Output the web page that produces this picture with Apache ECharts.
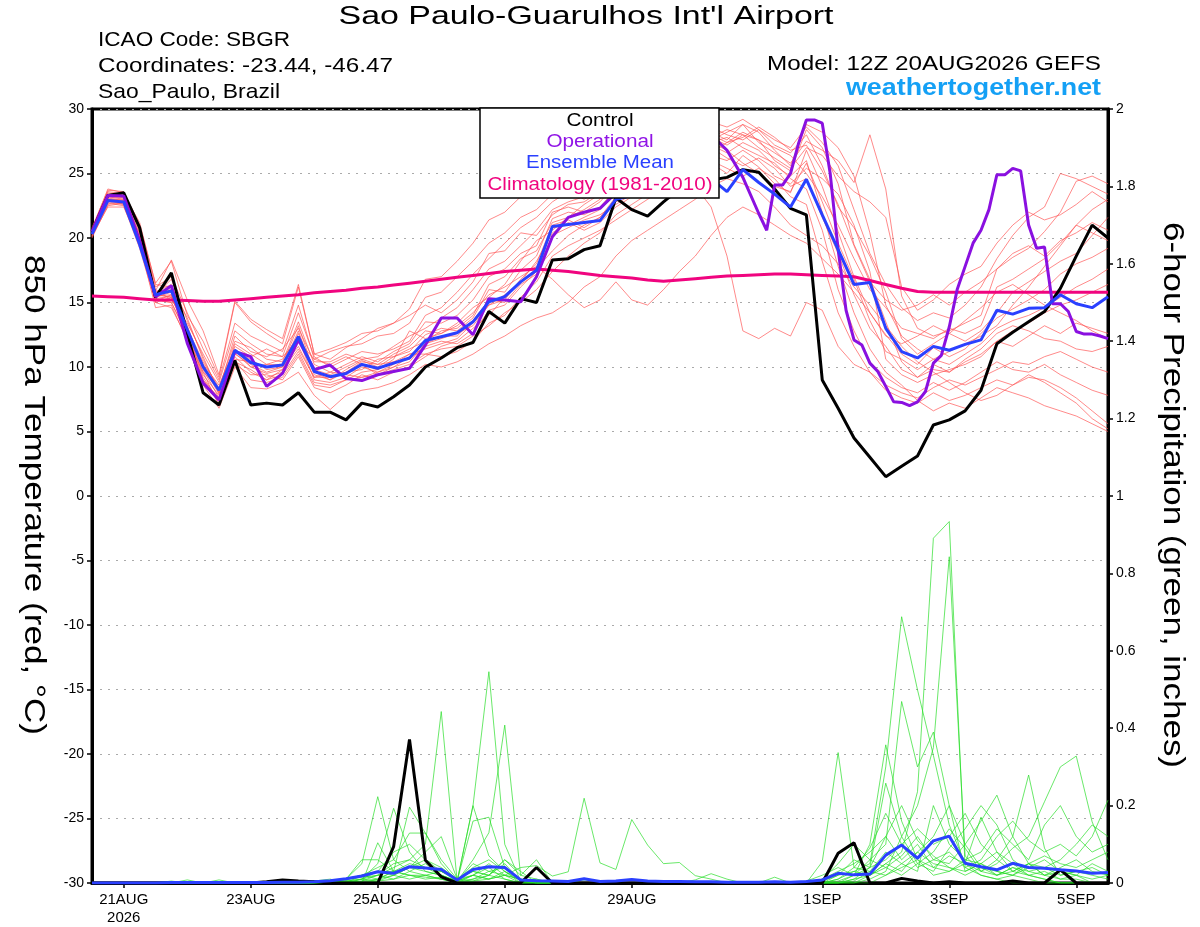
<!DOCTYPE html>
<html><head><meta charset="utf-8">
<script src="https://cdn.jsdelivr.net/npm/echarts@6/dist/echarts.min.js"></script>
<style>html,body{margin:0;padding:0;background:#fff}#c{width:1200px;height:927px}</style>
</head><body><div id="c"></div>
<script>
// ---------------- DATA ----------------
const stepHours = 6;            // forecast step (from 12Z 20AUG2026)
const xTickHours = [12, 60, 108, 156, 204, 276, 324, 372];
const xTickLabels = ['21AUG\n2026', '23AUG', '25AUG', '27AUG', '29AUG', '1SEP', '3SEP', '5SEP'];

const controlTemp = [20.5,23.3,23.5,20.8,15.4,17.3,12.6,8.0,7.05,10.5,7.05,7.2,7.05,8.0,6.5,6.5,5.9,7.2,6.9,7.7,8.6,10.0,10.7,11.5,11.9,14.3,13.4,15.3,15.0,18.3,18.4,19.1,19.4,23.1,22.2,21.7,22.8,23.8,24.3,24.5,24.7,25.3,25.1,23.8,22.3,21.8,9.0,6.8,4.5,3.0,1.5,2.3,3.1,5.5,5.9,6.6,8.2,11.8,12.7,13.5,14.3,16.1,18.6,21.0,20.0];
const meanTemp = [20.3,22.9,22.8,19.5,15.6,15.9,12.9,10.0,8.2,11.3,10.35,10.0,10.15,12.35,9.65,9.25,9.5,10.2,9.9,10.3,10.7,12.05,12.35,12.65,13.5,15.05,15.45,16.6,17.5,20.9,21.05,21.2,21.35,23.0,23.3,23.5,23.8,24.2,24.5,24.6,23.6,25.3,24.3,23.4,22.4,24.55,21.8,19.1,16.4,16.55,13.0,11.2,10.7,11.6,11.3,11.75,12.1,14.4,14.1,14.55,14.6,15.6,14.9,14.6,15.45];
// operational: 6-hourly for hours 0..246, then 3-hourly for hours 252..384
const opTemp6h = [20.5,23.3,23.25,19.8,15.45,16.3,11.85,8.75,7.45,11.2,10.8,8.5,9.5,12.1,9.8,10.15,9.1,8.95,9.4,9.65,9.9,11.7,13.8,13.8,12.5,15.3,15.2,15.05,17.0,20.1,21.6,22.0,22.3,23.5,24.5,25.0,25.5,26.5,27.5,28.0,26.8,24.7];
const opTemp3h = [21.9,20.6,24.1,24.1,25.0,27.3,29.15,29.15,28.9,25.0,19.1,14.4,12.1,11.7,10.3,9.65,8.5,7.3,7.25,7.0,7.3,8.1,10.3,10.9,13.1,16.0,17.8,19.6,20.6,22.2,24.9,24.9,25.4,25.2,21.0,19.2,19.3,14.9,14.9,14.3,12.75,12.55,12.55,12.4,12.2];
const climTemp = [15.5,15.45,15.4,15.3,15.2,15.2,15.15,15.1,15.1,15.2,15.3,15.4,15.5,15.6,15.75,15.85,15.95,16.1,16.2,16.35,16.5,16.65,16.8,16.95,17.1,17.25,17.4,17.5,17.6,17.5,17.4,17.25,17.1,17.0,16.9,16.75,16.65,16.75,16.85,16.95,17.05,17.1,17.15,17.2,17.2,17.15,17.1,17.05,17.0,16.7,16.4,16.1,15.85,15.8,15.8,15.8,15.8,15.8,15.8,15.8,15.8,15.8,15.8,15.8,15.8];

const tempMember01 = [20.1,23.0,22.9,20.0,15.8,16.0,13.2,9.8,7.6, 11.0,10.2,9.6,10.0,12.8,9.4,9.0,9.8,10.5,10.0,10.8,11.2,12.5,13.0, 12.8,13.8,16.0,15.8,17.5,18.6,21.5,22.0,21.8,22.4, 23.8,24.6,25.2,24.8,25.6,26.2,25.8,25.0,26.4,25.5,24.2,23.5,26.8, 24.0,20.5,17.0,14.2,12.5,11.0,10.2,11.5,10.8,11.4,12.6, 13.8,14.5,15.2,16.0,17.2,18.0,18.5,19.2];
const tempMember02 = [20.6,23.5,23.3,20.8,15.2,15.0,12.4,9.0,7.2, 10.5,9.0,8.8,9.2,11.0,8.6,8.4,9.0,9.6,9.8,10.4,10.6,11.6,12.0, 11.8,12.6,14.4,14.8,16.2,17.4,20.2,20.8,21.4,21.8, 22.6,23.4,24.0,24.4,25.0,25.8,26.6,27.4,28.2,27.6,26.0,25.2,28.4, 27.0,24.2,19.5,16.8,13.5,10.4,9.2,9.8,9.6,10.6,11.4, 12.6,13.2,12.8,12.2,12.0,11.4,11.2,11.6];
const tempMember03 = [20.8,23.7,23.6,21.0,16.5,18.2,14.0,12.0,9.2, 15.0,13.5,12.6,11.8,16.2,11.0,10.6,11.5,12.2,13.0,13.4,14.5,16.8,17.0, 18.2,19.6,21.4,22.0,23.2,23.4,24.0,24.6,25.0,25.8, 26.0,26.4,26.8,27.0,27.8,28.6,28.2,27.6,28.8,27.4,26.6,25.8,27.5, 26.8,26.0,24.3,28.0,23.8,15.5,13.0,12.4,12.8,13.4,14.0, 17.6,18.5,19.2,20.5,22.0,24.4,24.8,24.2];
const tempMember04 = [20.2,22.4,22.4,19.6,14.6,14.8,12.0,8.6,6.8, 10.0,8.4,8.3,8.8,9.6,7.8,6.7,7.8,8.2,8.4,8.8,9.4,10.2,10.0, 10.4,11.0,11.8,12.4,13.2,13.8,14.2,15.0,16.2,17.0, 18.6,19.8,20.6,21.4,22.2,23.0,24.0,24.6,24.2,23.6,22.4,21.0,20.2, 19.4,18.0,16.2,14.8,13.2,11.6,10.4,9.6,8.8,8.0,7.4, 7.8,8.6,9.2,9.0,8.4,7.6,6.6,5.6];
const tempMember05 = [20.4,23.2,23.0,19.8,15.5,15.6,13.0,10.4,8.4, 12.0,11.5,10.6,10.4,13.5,10.2,9.6,10.2,10.8,10.4,11.2,11.8,13.5,13.4, 14.0,15.2,17.0,17.6,18.8,19.4,22.0,22.4,22.0,22.8, 24.2,25.0,25.6,26.2,26.8,27.2,27.8,28.4,28.0,27.6,27.0,26.4,25.0, 23.2,21.0,18.4,16.0,14.6,13.0,12.6,12.2,13.0,12.6,13.2, 16.2,16.8,17.6,18.4,19.6,21.0,22.2,23.0];
const tempMember06 = [20.3,22.8,22.6,19.4,15.6,16.8,13.6,10.8,8.0, 11.6,10.8,11.4,10.8,12.0,10.6,10.2,10.8,10.2,9.8,10.6,12.8,12.2,12.6, 13.4,14.6,15.4,16.4,18.2,19.8,20.6,21.6,22.6,23.4, 24.4,25.0,24.6,25.4,24.8,24.0,22.4,18.6,12.8,12.2,13.0,12.4,15.0, 14.4,11.6,10.2,9.6,8.6,8.0,7.6,8.4,9.0,8.6,9.2, 9.8,10.4,10.2,10.8,11.2,10.6,10.0,9.6];
const tempMember07 = [20.0,22.6,22.8,20.2,15.0,15.4,12.6,9.4,7.8, 10.6,10.4,9.2,9.6,12.2,9.0,8.8,9.2,10.0,9.6,10.0,10.4,11.8,12.2, 12.6,13.2,14.8,15.2,16.8,18.0,21.0,21.4,20.8,21.6, 23.2,24.0,24.8,25.4,26.2,26.8,27.2,26.6,27.4,26.8,25.6,24.8,26.0, 22.0,17.8,14.2,11.4,9.6,8.6,7.4,6.6,7.2,6.8,7.6, 8.4,8.0,7.6,7.0,6.6,6.2,5.6,5.0];
const tempMember08 = [20.5,23.4,23.1,20.4,16.0,15.2,13.4,11.0,8.8, 12.8,11.8,11.0,10.8,14.2,10.8,10.0,10.6,11.2,11.0,11.4,12.0,14.0,14.6, 15.8,17.2,18.4,19.6,20.8,21.6,22.8,23.6,23.0,23.8, 25.0,25.6,26.2,26.8,27.4,28.0,28.6,28.0,27.6,28.4,27.2,26.6,28.0, 25.6,22.4,20.8,18.6,15.8,12.2,11.0,11.8,12.6,12.0,12.8, 14.2,15.8,16.6,17.4,18.2,18.8,20.2,21.6];
const tempMember09 = [20.2,22.7,22.5,19.2,15.0,14.6,12.2,9.6,7.0, 10.8,9.6,9.0,9.8,11.4,9.2,9.6,9.4,9.2,9.6,10.2,11.0,11.0,11.4, 11.6,12.4,13.2,14.2,15.0,16.0,17.4,18.6,19.6,20.4, 21.8,22.6,23.4,24.6,25.6,26.4,27.0,26.2,25.6,26.2,25.4,24.0,24.6, 21.6,18.8,15.6,13.0,11.6,9.8,9.2,10.2,9.6,10.4,11.0, 12.0,11.6,12.4,13.2,12.6,13.4,13.0,12.6];
const tempMember10 = [20.4,23.1,22.9,19.9,15.4,15.8,12.8,10.2,8.6, 11.4,10.0,10.2,10.6,12.4,9.8,9.4,10.0,10.6,10.2,11.0,11.6,12.8,12.6, 13.2,14.2,15.6,16.2,17.0,17.8,16.8,15.6,14.6,15.2, 16.6,15.2,14.8,16.0,17.4,18.6,20.2,21.6,22.4,21.8,21.0,20.2,19.6, 18.4,17.2,15.8,14.2,12.4,11.8,12.4,13.2,12.6,13.6,14.6, 15.8,16.4,15.6,14.8,14.2,13.6,12.8,12.2];
const tempMember11 = [20.6,23.6,23.4,21.2,16.4,16.2,13.8,10.6,8.2, 12.4,11.2,10.8,11.4,13.0,10.4,10.4,11.0,10.6,10.8,11.6,12.4,13.0,13.8, 14.6,16.0,17.6,18.2,19.4,20.6,22.2,22.8,23.2,24.0, 25.4,26.0,26.6,27.2,28.0,28.4,29.0,28.6,29.2,28.4,27.6,27.0,28.6, 27.4,25.6,22.2,18.8,16.4,14.6,13.6,14.2,13.8,14.8,16.2, 18.4,20.2,21.6,22.4,25.0,24.6,24.0,23.4];
const tempMember12 = [20.1,22.5,22.7,19.8,15.2,15.0,12.6,9.2,7.4, 10.2,9.4,9.4,9.0,10.8,8.4,8.0,8.6,9.4,9.0,9.6,10.0,10.8,11.6, 12.0,13.0,14.0,15.4,16.6,17.6,19.0,20.2,21.0,21.6, 22.8,23.6,24.4,25.0,25.8,26.6,27.4,27.8,27.0,26.4,25.8,24.6,23.8, 20.6,16.0,12.8,10.4,9.2,8.4,8.0,8.8,8.2,8.8,9.6, 10.4,9.8,9.6,10.2,9.4,8.8,8.2,7.8];
const tempMember13 = [20.3,23.3,23.2,20.6,15.8,16.4,13.0,10.0,7.9, 11.8,11.0,10.2,10.2,13.2,9.6,9.2,9.6,9.8,10.6,10.8,11.4,12.0,12.8, 13.0,14.0,16.4,17.0,18.4,19.0,21.2,21.6,22.2,23.0, 24.6,25.4,26.0,25.6,26.4,27.2,27.6,28.2,28.8,28.2,26.8,25.6,28.8, 28.2,27.0,24.8,20.4,14.8,12.4,11.4,10.6,11.2,11.8,12.4, 13.2,14.8,16.2,17.8,19.4,21.0,20.4,19.8];
const tempMember14 = [20.5,23.0,23.0,20.0,15.6,15.4,12.9,10.2,8.0, 11.2,10.6,9.8,10.0,11.6,9.2,9.2,9.6,10.4,10.2,10.4,11.0,11.4,11.8, 12.2,13.4,14.8,15.6,16.6,18.2,20.4,21.2,20.6,21.2, 22.4,23.2,24.2,24.8,25.2,25.8,26.4,26.0,26.8,26.0,24.8,24.2,25.4, 24.6,23.4,21.0,17.4,10.6,9.4,8.8,9.4,9.8,10.2,10.8, 12.0,12.8,13.4,14.2,14.8,15.2,15.8,16.4];
const tempMember15 = [20.7,23.8,23.5,20.9,16.2,17.0,14.2,11.4,9.0, 13.4,12.4,11.8,11.2,14.8,10.6,11.2,11.6,11.8,12.4,12.6,13.4,15.4,15.8, 17.0,18.2,19.6,20.4,21.6,22.2,23.4,24.0,24.4,25.0, 25.6,25.8,26.4,26.6,27.0,27.4,27.8,27.2,28.0,27.0,26.2,25.4,27.0, 26.4,24.8,23.6,22.8,21.6,16.2,14.4,15.2,16.4,17.2,17.8, 19.6,21.0,22.0,21.4,21.8,22.6,23.6,22.8];
const tempMember16 = [20.2,22.9,22.6,19.7,15.1,15.6,12.4,9.0,7.6, 10.4,9.8,9.0,9.4,11.2,8.8,8.6,9.0,9.2,9.4,9.8,10.2,11.0,10.8, 11.2,12.0,13.4,14.0,15.4,16.6,18.6,19.4,20.0,20.6, 21.4,22.2,23.0,23.8,24.6,25.4,26.0,25.4,24.8,25.4,24.6,23.2,22.6, 18.2,14.2,11.6,9.6,8.2,7.6,7.2,8.0,7.4,7.8,8.4, 9.0,8.6,9.4,8.8,8.0,7.2,6.0,5.2];
const tempMember17 = [20.4,23.2,23.1,20.3,15.9,18.3,15.2,12.8,9.4, 15.1,13.7,12.9,12.2,16.4,11.0,11.4,11.9,12.6,12.8,13.4,14.0,14.8,14.2, 15.2,16.6,18.8,19.0,20.4,20.2,21.8,22.6,22.8,23.6, 24.8,25.2,25.8,26.4,27.2,27.0,28.0,27.4,27.8,28.6,27.8,26.8,27.2, 25.2,22.6,19.4,16.6,15.2,14.4,14.8,15.6,14.8,15.8,16.6, 17.6,18.8,19.4,18.6,19.8,20.4,21.2,20.6];
const tempMember18 = [20.3,23.0,22.8,19.7,15.3,15.5,12.7,9.6,8.3, 11.1,10.0,9.5,9.8,12.6,9.6,9.0,9.6,10.2,9.4,10.0,10.8,11.8,12.4, 12.4,13.6,15.2,15.0,16.4,17.2,20.8,21.0,21.6,22.2, 23.4,24.2,25.0,25.6,26.4,27.0,27.4,26.8,25.8,25.0,24.0,23.6,25.8, 22.8,19.6,16.8,13.6,11.2,10.6,9.8,10.6,10.2,11.0,11.8, 13.0,13.6,14.0,14.6,15.4,16.2,16.8,17.6];

const controlPrecip = [0,0,0,0,0,0,0,0,0,0, 0,0.003,0.008,0.005,0.003,0,0,0,0,0.094, 0.371,0.059,0.016,0,0,0,0,0,0.04,0, 0,0,0,0,0,0,0,0,0,0, 0,0,0,0,0,0,0,0.077,0.104,0, 0,0.012,0.005,0,0.003,0,0,0,0.005,0, 0,0.034,0,0,0];
const meanPrecip = [0,0,0,0,0,0.001,0.001,0.001,0.001,0.001, 0.001,0.001,0.002,0.002,0.003,0.006,0.011,0.018,0.029,0.025, 0.042,0.039,0.035,0.008,0.035,0.042,0.04,0.008,0.006,0.005, 0.004,0.011,0.004,0.005,0.009,0.005,0.004,0.004,0.003,0.003, 0.002,0.002,0.002,0.003,0.002,0.004,0.008,0.025,0.021,0.023, 0.072,0.098,0.064,0.109,0.121,0.051,0.042,0.034,0.051,0.04, 0.038,0.034,0.031,0.025,0.027];

const precipMember01 = [0,0,0,0,0,0.005,0,0,0,0, 0,0,0,0,0,0,0.01,0.02,0.03,0.02, 0.04,0.03,0.02,0.005,0.2,0.546,0.1,0.005,0.01,0, 0,0,0,0,0,0,0,0,0,0, 0,0,0,0,0,0,0.01,0.03,0.05,0.08, 0.12,0.06,0.1,0.04,0.03,0.06,0.05,0.02,0.04,0.03, 0.02,0.01,0.01,0,0];
const precipMember02 = [0,0,0,0,0,0,0,0,0,0, 0,0,0,0,0.005,0.01,0,0.01,0.02,0.04, 0.06,0.1,0.443,0.005,0.02,0.01,0.03,0,0,0, 0,0,0,0,0,0,0,0,0,0, 0,0,0,0,0,0,0,0.02,0.06,0.04, 0.258,0.12,0.05,0.08,0.14,0.09,0.03,0.06,0.12,0.05, 0.02,0.03,0.02,0.01,0.02];
const precipMember03 = [0,0,0,0,0,0,0,0,0,0, 0,0,0,0,0,0,0.005,0,0.01,0.03, 0.05,0.04,0.02,0.005,0.06,0.13,0.408,0.02,0.06,0, 0,0,0,0,0,0,0,0,0,0, 0,0,0,0,0,0,0,0,0.02,0.1, 0.357,0.16,0.06,0.04,0.07,0.05,0.17,0.08,0.03,0.05, 0.04,0.02,0.03,0.02,0.01];
const precipMember04 = [0,0,0,0,0,0,0.008,0,0,0, 0,0,0,0,0,0.005,0.01,0.05,0.223,0.06, 0.03,0.02,0.01,0,0.02,0.04,0.01,0,0,0, 0,0,0,0,0,0,0,0,0,0, 0,0,0,0,0,0,0.055,0.337,0.04,0.03, 0.02,0.05,0.08,0.12,0.2,0.1,0.04,0.02,0.03,0.02, 0.01,0,0,0,0];
const precipMember05 = [0,0,0,0,0,0,0,0,0.008,0, 0,0,0,0,0,0,0.005,0.01,0.05,0.193, 0.08,0.03,0.02,0.005,0.01,0.03,0.02,0.01,0,0, 0,0,0,0,0,0,0,0,0,0, 0,0,0,0,0,0.005,0.02,0.04,0.02,0.06, 0.1,0.469,0.3,0.39,0.2,0.03,0.05,0.03,0.02,0.04, 0.06,0.03,0.02,0.05,0.03];
const precipMember06 = [0,0,0,0,0,0,0,0,0,0, 0,0,0,0,0,0,0.01,0.02,0.03,0.03, 0.196,0.129,0.05,0.005,0.02,0.05,0.02,0,0,0, 0,0,0,0,0,0,0,0,0,0, 0,0,0,0,0,0,0,0.01,0.03,0.05, 0.3,0.688,0.499,0.33,0.15,0.05,0.03,0.02,0.04,0.02, 0.01,0,0,0,0];
const precipMember07 = [0,0,0,0,0,0,0,0,0,0, 0,0,0,0,0,0,0,0.02,0.04,0.06, 0.129,0.129,0.06,0.01,0.04,0.06,0.03,0.005,0,0, 0,0,0,0,0,0,0,0,0,0, 0,0,0,0,0,0,0,0,0.01,0.02, 0.05,0.08,0.236,0.891,0.934,0.04,0.02,0.01,0.02,0.01, 0,0,0,0,0];
const precipMember08 = [0,0,0,0,0,0,0,0,0,0, 0,0,0,0,0,0,0,0,0.005,0.01, 0.02,0.02,0.03,0.01,0.03,0.02,0.05,0.005,0,0, 0,0,0,0,0,0,0,0,0,0, 0,0,0,0,0,0,0,0,0,0.01, 0.03,0.12,0.2,0.35,0.843,0.07,0.03,0.05,0.09,0.12, 0.21,0.3,0.328,0.158,0.06];
const precipMember09 = [0,0,0,0,0,0,0,0,0,0, 0,0,0,0,0,0,0,0.005,0.01,0.02, 0.01,0.02,0.01,0,0.005,0.01,0.02,0.04,0.045,0.018, 0.029,0.219,0.052,0.035,0.164,0.098,0.05,0.053,0.019,0.01, 0,0,0,0,0,0,0,0,0,0, 0.02,0.04,0.06,0.02,0.03,0.05,0.02,0.01,0,0, 0,0,0,0,0];
const precipMember10 = [0,0,0,0,0,0.003,0,0,0,0, 0,0,0.004,0,0.006,0,0.01,0.06,0.06,0.03, 0.02,0.01,0.015,0.005,0.2,0.07,0.03,0.01,0,0, 0,0,0,0,0,0,0,0,0.008,0.024, 0.01,0,0,0,0,0,0,0.01,0.04,0.09, 0.18,0.1,0.04,0.06,0.05,0.1,0.16,0.227,0.12,0.279, 0.09,0.02,0.03,0.04,0.02];
const precipMember11 = [0,0,0,0,0,0,0,0,0,0, 0,0,0,0,0,0,0.008,0.015,0.02,0.05, 0.06,0.04,0.03,0.005,0.16,0.17,0.04,0.01,0.005,0, 0,0,0,0,0,0,0,0,0,0, 0,0,0,0.015,0,0,0.005,0.02,0.03,0.02, 0.04,0.07,0.12,0.06,0.08,0.04,0.06,0.12,0.16,0.11, 0.08,0.1,0.07,0.12,0.214];
const precipMember12 = [0,0,0,0,0,0,0,0,0,0, 0,0,0,0,0,0,0.005,0,0.104,0.03, 0.04,0.06,0.04,0.01,0.03,0.02,0.06,0.02,0.01,0, 0,0,0,0,0,0,0,0,0,0, 0,0,0,0,0,0,0,0,0.01,0.04, 0.06,0.1,0.14,0.1,0.12,0.18,0.1,0.06,0.03,0.05, 0.07,0.05,0.04,0.06,0.08];
const precipMember13 = [0,0,0,0,0,0,0,0,0,0, 0,0,0,0,0,0,0,0.005,0.02,0.01, 0.03,0.05,0.02,0,0.01,0.02,0.01,0,0,0, 0,0,0,0,0,0,0,0,0,0, 0,0,0,0,0,0,0,0,0.005,0.03, 0.08,0.05,0.03,0.2,0.1,0.06,0.08,0.14,0.1,0.06, 0.15,0.2,0.12,0.08,0.1];
const precipMember14 = [0,0,0,0,0,0,0,0,0,0, 0,0,0,0,0,0.005,0.01,0.02,0.01,0.03, 0.02,0.015,0.01,0.005,0.05,0.03,0.04,0.005,0,0, 0,0,0,0,0,0,0,0,0,0, 0,0,0,0,0,0,0.01,0.05,0.1,0.06, 0.04,0.02,0.05,0.03,0.09,0.14,0.2,0.15,0.06,0.03, 0.04,0.06,0.1,0.15,0.12];
const precipMember15 = [0,0,0,0,0,0,0,0,0,0, 0,0,0,0,0,0,0.005,0.01,0.03,0.08, 0.1,0.06,0.03,0.01,0.02,0.01,0.02,0.01,0.005,0, 0,0.008,0.004,0,0,0,0,0,0,0, 0,0,0,0,0,0,0,0,0,0.02, 0.05,0.03,0.08,0.05,0.04,0.02,0.04,0.03,0.02,0.05, 0.02,0.04,0.06,0.03,0.02];
const precipMember16 = [0,0,0,0,0,0,0,0,0,0, 0,0,0,0,0,0,0,0.01,0.005,0.02, 0.04,0.08,0.12,0.01,0.005,0.02,0.06,0.03,0,0, 0,0,0,0,0,0,0,0,0,0, 0,0,0,0,0,0,0,0.005,0.02,0.04, 0.12,0.2,0.11,0.07,0.04,0.03,0.05,0.08,0.05,0.02, 0.03,0.01,0.02,0,0];

const tempMembers = [tempMember01,tempMember02,tempMember03,tempMember04,tempMember05,tempMember06,tempMember07,tempMember08,tempMember09,tempMember10,tempMember11,tempMember12,tempMember13,tempMember14,tempMember15,tempMember16,tempMember17,tempMember18];
const precipMembers = [precipMember01,precipMember02,precipMember03,precipMember04,precipMember05,precipMember06,precipMember07,precipMember08,precipMember09,precipMember10,precipMember11,precipMember12,precipMember13,precipMember14,precipMember15,precipMember16];

// ---------------- CHART ----------------
const FONT = "'Liberation Sans', Arial, Helvetica, sans-serif";
const pairs = (arr, step, start) => arr.map((v, i) => [start + i * step, v]);
const opPairs = pairs(opTemp6h, 6, 0).concat(pairs(opTemp3h, 3, 252));

// text helper: stretch text horizontally to the reference's wider lettering
const mctx = document.createElement('canvas').getContext('2d');
function txt(text, size, x, y, targetW, opts) {
  opts = opts || {};
  const font = (opts.bold ? 'bold ' : '') + size + 'px ' + FONT;
  mctx.font = font;
  const s = targetW / mctx.measureText(text).width;
  return {type:'text', x:x, y:y, scaleX:s, rotation:opts.rot || 0, z:opts.z || 10,
    style:{text:text, font:font, fill:opts.color || '#000', textAlign:opts.align || 'left', textVerticalAlign:'middle'}};
}

const series = [];
tempMembers.forEach(m => series.push({type:'line', yAxisIndex:0, data:pairs(m, stepHours, 0), symbol:'none', silent:true,
  lineStyle:{color:'#ff5252', width:0.8, opacity:0.85}, z:1}));
precipMembers.forEach(m => series.push({type:'line', yAxisIndex:1, data:pairs(m, stepHours, 0), symbol:'none', silent:true,
  lineStyle:{color:'#22dd22', width:0.8, opacity:0.85}, z:1}));
series.push({type:'line', yAxisIndex:0, data:pairs(climTemp, stepHours, 0), symbol:'none', lineStyle:{color:'#f0047f', width:3}, z:3});
series.push({type:'line', yAxisIndex:0, data:pairs(controlTemp, stepHours, 0), symbol:'none', lineStyle:{color:'#000', width:3}, z:4});
series.push({type:'line', yAxisIndex:1, data:pairs(controlPrecip, stepHours, 0), symbol:'none', lineStyle:{color:'#000', width:3}, z:4});
series.push({type:'line', yAxisIndex:0, data:opPairs, symbol:'none', lineStyle:{color:'#8a10e0', width:3}, z:5});
series.push({type:'line', yAxisIndex:0, data:pairs(meanTemp, stepHours, 0), symbol:'none', lineStyle:{color:'#2a40ff', width:3}, z:6});
series.push({type:'line', yAxisIndex:1, data:pairs(meanPrecip, stepHours, 0), symbol:'none', lineStyle:{color:'#2a40ff', width:3}, z:6});

const chart = echarts.init(document.getElementById('c'), null, {renderer:'canvas'});
chart.setOption({
  animation:false,
  backgroundColor:'#fff',
  textStyle:{fontFamily:FONT},
  grid:{left:92, right:92, top:109, bottom:44, show:true, borderColor:'#000', borderWidth:3, backgroundColor:'transparent'},
  xAxis:{type:'value', min:0, max:384,
    axisLine:{show:true, onZero:false, lineStyle:{color:'#000', width:3}},
    axisTick:{show:true, customValues:xTickHours, length:5, lineStyle:{color:'#000', width:1.5}},
    axisLabel:{customValues:xTickHours, color:'#000', fontSize:15, fontFamily:FONT, margin:8, lineHeight:18,
      formatter:v => xTickLabels[xTickHours.indexOf(v)] || ''},
    splitLine:{show:false}},
  yAxis:[
    {type:'value', min:-30, max:30, interval:5, position:'left',
      axisLine:{show:true, onZero:false, lineStyle:{color:'#000', width:3}},
      axisTick:{show:true, length:5, lineStyle:{color:'#000', width:1.5}},
      axisLabel:{color:'#000', fontSize:14, fontFamily:FONT, margin:8},
      splitLine:{show:true, lineStyle:{color:'#aaaaaa', width:1.2, type:[2,6]}}},
    {type:'value', min:0, max:2, interval:0.2, position:'right',
      axisLine:{show:true, onZero:false, lineStyle:{color:'#000', width:3}},
      axisTick:{show:true, length:5, lineStyle:{color:'#000', width:1.5}},
      axisLabel:{color:'#000', fontSize:14, fontFamily:FONT, margin:8, formatter:v => String(+v.toFixed(1))},
      splitLine:{show:false}}
  ],
  series:series,
  graphic:[
    txt("Sao Paulo-Guarulhos Int'l Airport", 26, 586, 17, 495, {align:'center'}),
    txt('ICAO Code: SBGR', 21, 98, 40, 192),
    txt('Coordinates: -23.44, -46.47', 21, 98, 66, 295),
    txt('Sao_Paulo, Brazil', 21, 98, 92, 182),
    txt('Model: 12Z 20AUG2026 GEFS', 21, 1101, 64, 334, {align:'right'}),
    txt('weathertogether.net', 23, 1101, 89, 255, {align:'right', bold:true, color:'#14a0f5'}),
    txt('850 hPa Temperature (red, °C)', 29, 33, 495, 480, {align:'center', rot:-Math.PI/2}),
    txt('6-hour Precipitation (green, inches)', 29, 1172, 495, 546, {align:'center', rot:-Math.PI/2}),
    {type:'rect', shape:{x:480, y:108, width:239, height:90}, style:{fill:'#fff', stroke:'#000', lineWidth:1.5}, z:20},
    txt('Control', 17.5, 600, 121, 67, {align:'center', z:21}),
    txt('Operational', 17.5, 600, 142, 107, {align:'center', z:21, color:'#9014e6'}),
    txt('Ensemble Mean', 17.5, 600, 163, 148, {align:'center', z:21, color:'#2a40ff'}),
    txt('Climatology (1981-2010)', 17.5, 600, 185, 225, {align:'center', z:21, color:'#f0047f'})
  ]
});
</script>
</body></html>
